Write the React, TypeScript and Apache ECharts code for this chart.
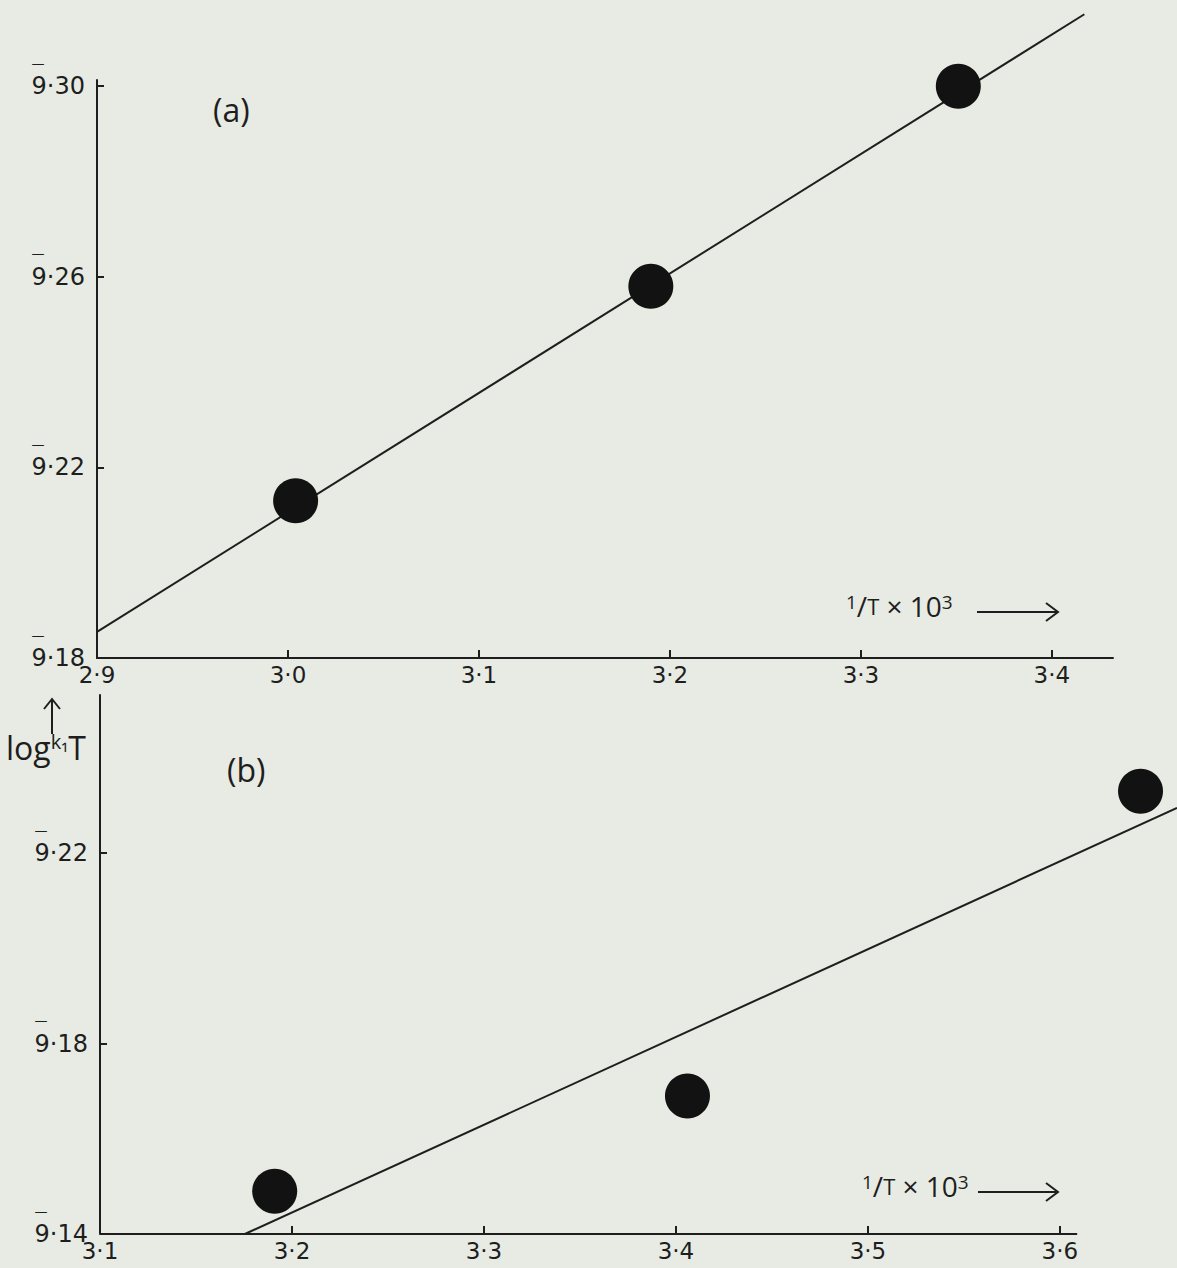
import React, { useEffect, useRef } from "react";
import * as echarts from "echarts";

// Tick positions for both panels
const xTicksA = [2.9, 3.0, 3.1, 3.2, 3.3, 3.4];
const yTicksA = [9.18, 9.22, 9.26, 9.3];
const xTicksB = [3.1, 3.2, 3.3, 3.4, 3.5, 3.6];
const yTicksB = [9.14, 9.18, 9.22];

// Panel (a): measured points and fitted straight line
const invTA = [3.004, 3.19, 3.351];
const logKA = [9.213, 9.258, 9.3];
const fitXA = [2.9, 3.417];
const fitYA = [9.1855, 9.3151];

// Panel (b): measured points and fitted straight line
const invTB = [3.191, 3.406, 3.642];
const logKB = [9.149, 9.169, 9.233];
const fitXB = [3.1755, 3.661];
const fitYB = [9.14, 9.2295];
// the drawn horizontal axis of (b) stops here, the fitted line runs on past it
const axisEndB = 3.609;

const INK = "#1e1e1e";
const BG = "#e7ebe3";
const FONT = "'Open Sans', 'DejaVu Sans', sans-serif";
const LABEL_FONT = "'DejaVu Sans', sans-serif";

const zip = (xs: number[], ys: number[]) => xs.map((x, i) => [x, ys[i]]);
const fmtX = (v: number) => v.toFixed(1).replace(".", "·");
// bar-notation logarithm: a short bar drawn over the leading 9
const fmtY = (v: number) => `{bar|—}\n{num|9·${v.toFixed(2).split(".")[1]}}`;

function xAxisCfg(gridIndex: number, min: number, max: number, ticks: number[], showLine: boolean) {
  return {
    type: "value",
    gridIndex,
    min,
    max,
    interval: 0.1,
    axisLine: { show: showLine, onZero: false, lineStyle: { color: INK, width: 2 } },
    axisTick: { show: true, inside: true, length: 8, customValues: ticks, lineStyle: { color: INK, width: 2 } },
    axisLabel: { customValues: ticks, formatter: fmtX, fontSize: 23, color: INK, fontFamily: LABEL_FONT, margin: 5 },
    splitLine: { show: false },
  };
}

function yAxisCfg(gridIndex: number, min: number, max: number, ticks: number[]) {
  return {
    type: "value",
    gridIndex,
    min,
    max,
    interval: 0.04,
    axisLine: { show: true, onZero: false, lineStyle: { color: INK, width: 2 } },
    axisTick: { show: true, inside: true, length: 7, customValues: ticks, lineStyle: { color: INK, width: 2 } },
    axisLabel: {
      customValues: ticks,
      formatter: fmtY,
      color: INK,
      margin: 12,
      padding: [0, 0, 16, 0],
      rich: {
        bar: { fontSize: 13, lineHeight: 16, align: "left", fontFamily: LABEL_FONT, color: INK },
        num: { fontSize: 24, lineHeight: 30, align: "left", fontFamily: LABEL_FONT, color: INK },
      },
    },
    splitLine: { show: false },
  };
}

function arrowLabel(x: number, y: number, arrowStart: number, arrowEnd: number) {
  return [
    {
      type: "text",
      left: x,
      top: y - 20,
      style: {
        text: "{s|1}/{t|T} × 10{s|3}",
        fill: INK,
        font: `28px ${FONT}`,
        rich: {
          s: { fontSize: 19, fontFamily: FONT, verticalAlign: "top", fill: INK },
          t: { fontSize: 22, fontFamily: FONT, fill: INK },
        },
      },
    },
    {
      type: "line",
      shape: { x1: arrowStart, y1: y, x2: arrowEnd, y2: y },
      style: { stroke: INK, lineWidth: 2 },
    },
    {
      type: "polyline",
      shape: { points: [[arrowEnd - 12, y - 9], [arrowEnd, y], [arrowEnd - 12, y + 9]] },
      style: { stroke: INK, lineWidth: 2, fill: "none" },
    },
  ];
}

export default function App() {
  const ref = useRef<HTMLDivElement>(null);

  useEffect(() => {
    document.body.style.margin = "0";
    const chart = echarts.init(ref.current!, undefined, { renderer: "svg" });
    chart.setOption({
      animation: false,
      backgroundColor: BG,
      grid: [
        { left: 97, top: 80, width: 1016, height: 578 },
        { left: 100, top: 695, width: 1077, height: 539 },
      ],
      xAxis: [
        xAxisCfg(0, 2.9, 3.432, xTicksA, true),
        xAxisCfg(1, 3.1, 3.661, xTicksB, false),
      ],
      yAxis: [yAxisCfg(0, 9.18, 9.3013, yTicksA), yAxisCfg(1, 9.14, 9.2532, yTicksB)],
      series: [
        {
          type: "line",
          xAxisIndex: 0,
          yAxisIndex: 0,
          data: zip(fitXA, fitYA),
          showSymbol: false,
          clip: false,
          lineStyle: { color: INK, width: 2 },
          z: 2,
        },
        {
          type: "scatter",
          xAxisIndex: 0,
          yAxisIndex: 0,
          data: zip(invTA, logKA),
          symbolSize: 45,
          clip: false,
          itemStyle: { color: "#121212", opacity: 1 },
          z: 3,
        },
        {
          type: "line",
          xAxisIndex: 1,
          yAxisIndex: 1,
          data: zip(fitXB, fitYB),
          showSymbol: false,
          clip: false,
          lineStyle: { color: INK, width: 2 },
          z: 2,
          // horizontal axis line of panel (b)
          markLine: {
            silent: true,
            symbol: ["none", "none"],
            label: { show: false },
            lineStyle: { color: INK, width: 2, type: "solid" },
            data: [[{ coord: [xTicksB[0], yTicksB[0]] }, { coord: [axisEndB, yTicksB[0]] }]],
          },
        },
        {
          type: "scatter",
          xAxisIndex: 1,
          yAxisIndex: 1,
          data: zip(invTB, logKB),
          symbolSize: 45,
          clip: false,
          itemStyle: { color: "#121212", opacity: 1 },
          z: 3,
        },
      ],
      graphic: [
        { type: "text", left: 213, top: 93, style: { text: "(a)", fill: INK, font: `32px ${FONT}` } },
        { type: "text", left: 227, top: 753, style: { text: "(b)", fill: INK, font: `32px ${FONT}` } },
        ...arrowLabel(846, 612, 977, 1058),
        ...arrowLabel(862, 1192, 978, 1058),
        // vertical axis caption: arrow above "log k₁T"
        { type: "line", shape: { x1: 52, y1: 700, x2: 52, y2: 734 }, style: { stroke: INK, lineWidth: 2 } },
        {
          type: "polyline",
          shape: { points: [[44, 709], [52, 699], [60, 709]] },
          style: { stroke: INK, lineWidth: 2, fill: "none" },
        },
        {
          type: "text",
          left: 6,
          top: 731,
          style: {
            text: "log{k|k₁}T",
            fill: INK,
            font: `32px ${FONT}`,
            rich: { k: { fontSize: 20, fontFamily: FONT, verticalAlign: "top", fill: INK } },
          },
        },
      ],
    });
    return () => chart.dispose();
  }, []);

  return <div ref={ref} style={{ width: 1177, height: 1268 }} />;
}
